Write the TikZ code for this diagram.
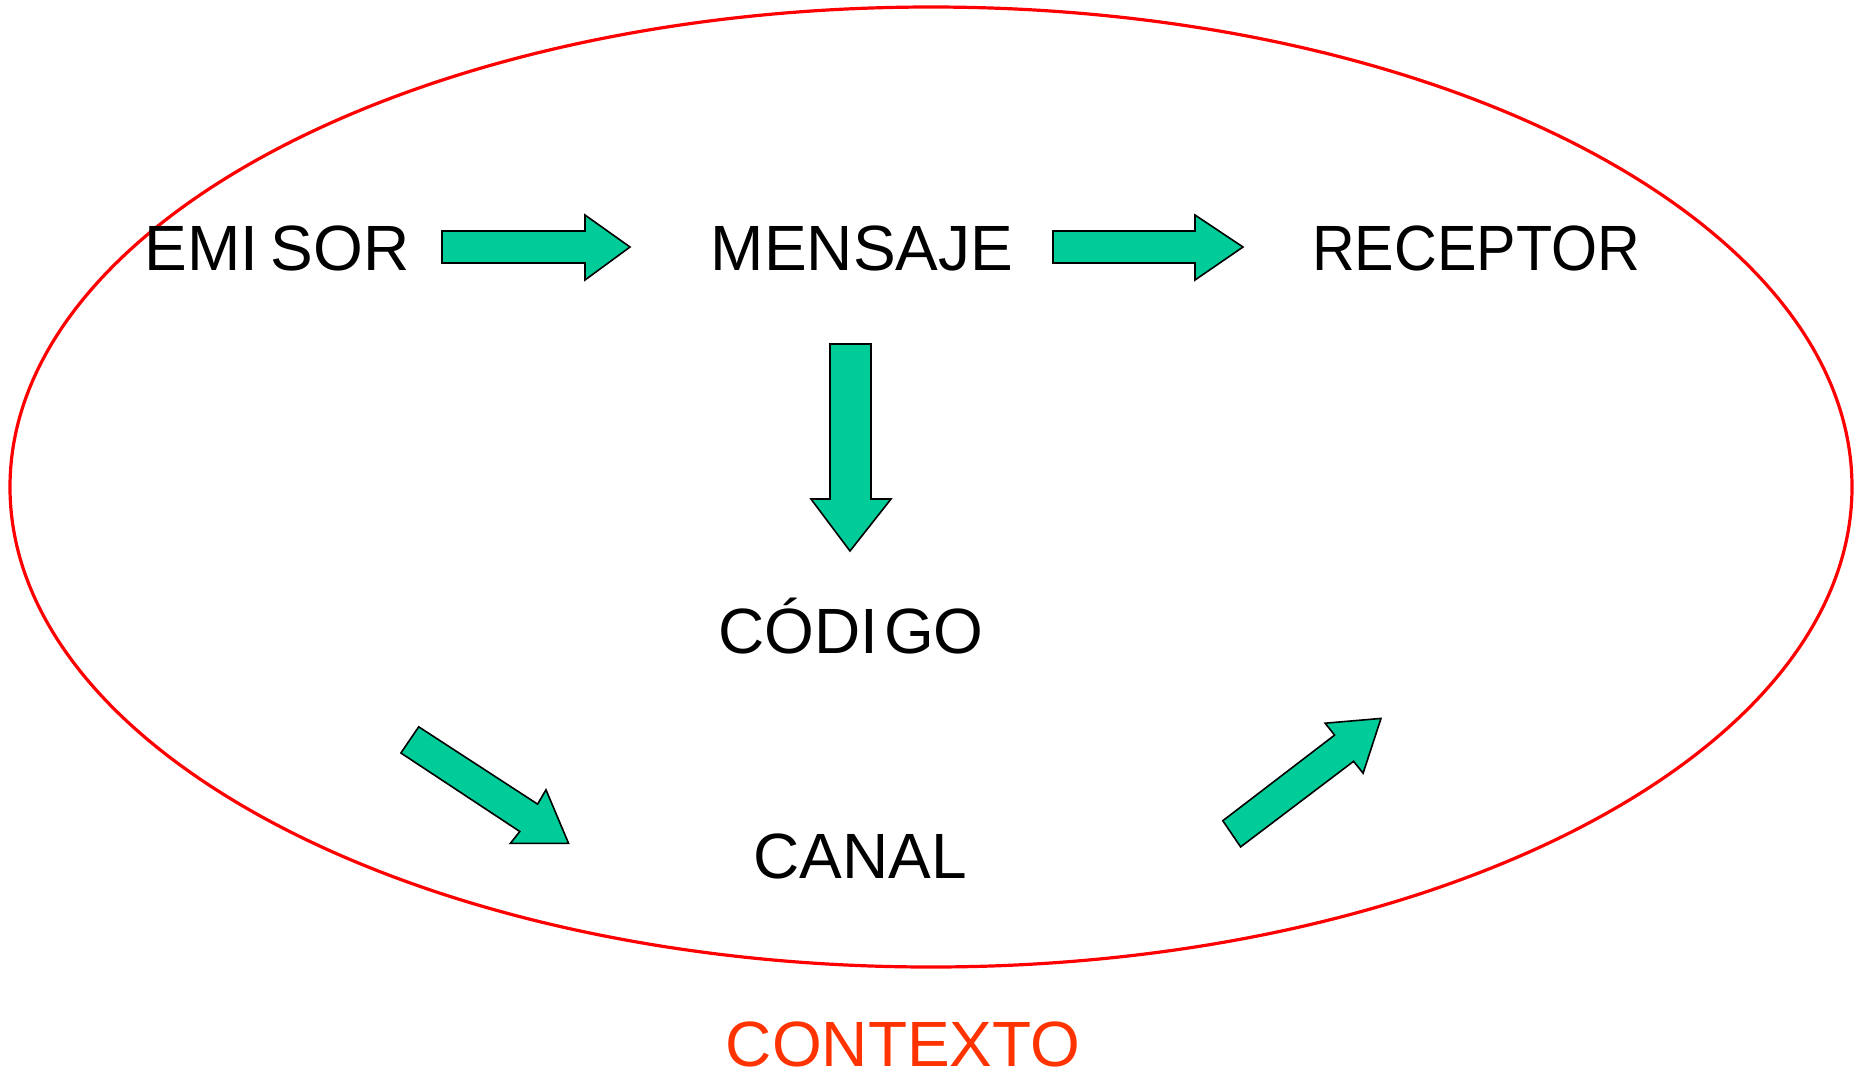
\documentclass[tikz,border=0pt]{standalone}
\usepackage{fontspec}
\setmainfont{Liberation Sans}
\definecolor{arrowgreen}{RGB}{0,204,153}
\definecolor{ctxred}{RGB}{255,51,0}
\begin{document}
\begin{tikzpicture}[x=0.5pt,y=-0.5pt,
  lbl/.style={anchor=base,inner sep=0pt,font=\fontsize{32}{38}\selectfont},
  blockarrow/.style={fill=arrowgreen,draw=black,line width=0.8pt,line join=miter}]
\useasboundingbox (0,0) rectangle (1865,1078);
\draw[red,line width=1.6pt] (931,487) ellipse [x radius=921, y radius=480];
\node[lbl] (emisor) at (277,270) {EMI\kern6pt SOR};
\node[lbl] (mensaje) at (862,270) {MENSAJE};
\node[lbl,xscale=0.925,transform shape] (receptor) at (1476,270) {RECEPTOR};
\node[lbl] (codigo) at (851,653) {CÓDI\kern3pt GO};
\node[lbl] (canal) at (860,878) {CANAL};
\node[lbl,text=ctxred] (contexto) at (903,1066) {CONTEXTO};
% horizontal arrows
\draw[blockarrow] (442,231) -- (585,231) -- (585,215) -- (630,247) -- (585,280) -- (585,263) -- (442,263) -- cycle;
\draw[blockarrow] (1053,231) -- (1195,231) -- (1195,215) -- (1243,247) -- (1195,280) -- (1195,263) -- (1053,263) -- cycle;
% down arrow
\draw[blockarrow] (830,344) -- (871,344) -- (871,499) -- (891,499) -- (850,551) -- (811,499) -- (830,499) -- cycle;
% diagonal arrows
\draw[blockarrow] (418.7,726.8) -- (537.6,804.1) -- (546,789.8) -- (568.6,843.4) -- (510.3,843.4) -- (519.8,831.5) -- (400.9,753) -- cycle;
\draw[blockarrow] (1240.6,846.9) -- (1353.6,761.3) -- (1363.1,773.2) -- (1381,718.4) -- (1325.1,723.2) -- (1334.6,735.1) -- (1222.8,820.7) -- cycle;
\end{tikzpicture}
\end{document}
